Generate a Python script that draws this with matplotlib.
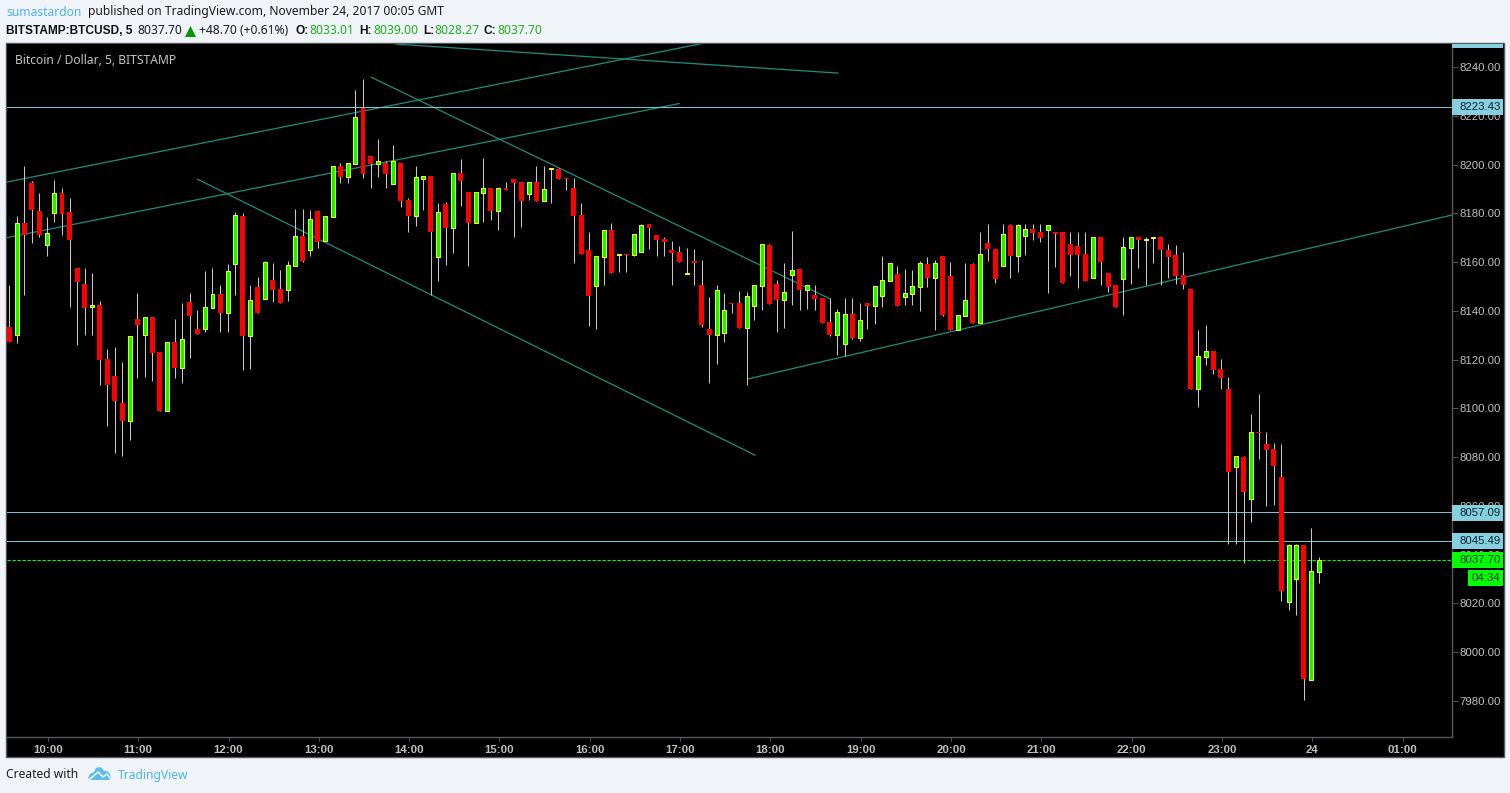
import numpy as np
import matplotlib
matplotlib.use('Agg')
import matplotlib.pyplot as plt
from matplotlib.patches import Rectangle, Polygon

# 5 minute bars, first one is 09:35
opens = [8133.4, 8130.2, 8175.9, 8192.4, 8180.9, 8167.1, 8180.3, 8188.3, 8180.5, 8157.6,
         8151.0, 8141.6, 8142.4, 8120.3, 8113.3, 8102.2, 8095.0, 8136.7, 8130.2, 8137.5,
         8123.1, 8099.1, 8127.2, 8116.7, 8143.6, 8132.6, 8132.7, 8141.3, 8146.9, 8139.3,
         8159.4, 8178.9, 8129.8, 8149.8, 8145.0, 8152.6, 8149.0, 8148.7, 8158.5, 8170.6,
         8165.1, 8181.0, 8168.6, 8178.6, 8199.4, 8195.0, 8200.4, 8223.2, 8203.5, 8200.4,
         8200.6, 8192.2, 8200.6, 8185.5, 8179.0, 8194.2, 8195.3, 8162.2, 8183.8, 8174.1,
         8196.5, 8188.7, 8176.2, 8188.5, 8190.4, 8181.1, 8190.4, 8194.1, 8192.8, 8188.1,
         8192.8, 8185.2, 8198.2, 8198.2, 8194.5, 8190.4, 8179.3, 8165.0, 8150.2, 8162.1,
         8173.2, 8162.9, 8163.3, 8162.9, 8164.1, 8175.6, 8171.1, 8169.5, 8165.0, 8164.1,
         8155.1, 8160.4, 8150.6, 8132.6, 8130.2, 8131.1, 8143.2, 8143.2, 8133.1, 8142.1,
         8150.3, 8167.0, 8151.0, 8144.6, 8154.8, 8157.2, 8148.7, 8146.5, 8145.3, 8135.4,
         8130.2, 8126.5, 8138.7, 8129.0, 8143.2, 8142.1, 8146.2, 8152.4, 8155.1, 8145.8,
         8147.1, 8149.9, 8159.2, 8153.6, 8162.5, 8154.3, 8132.3, 8138.0, 8159.2, 8135.2,
         8167.8, 8165.4, 8158.3, 8175.2, 8162.6, 8170.8, 8173.6, 8172.3, 8173.3, 8172.3,
         8172.3, 8167.4, 8166.6, 8163.3, 8153.6, 8170.3, 8155.5, 8150.6, 8153.2, 8165.9,
         8170.3, 8169.1, 8169.9, 8170.3, 8165.0, 8162.9, 8154.7, 8149.0, 8108.1, 8121.2,
         8123.5, 8116.2, 8108.0, 8076.1, 8080.1, 8063.0, 8090.3, 8085.4, 8083.3, 8071.9,
         8020.7, 8030.2, 8044.0, 7988.8, 8033.01]
highs = [8150.6, 8178.9, 8199.4, 8193.2, 8188.3, 8178.5, 8193.7, 8190.4, 8186.3, 8157.6,
         8157.6, 8155.5, 8144.0, 8124.4, 8125.2, 8119.0, 8129.5, 8147.3, 8137.3, 8137.5,
         8123.1, 8127.1, 8136.7, 8143.2, 8147.3, 8140.3, 8156.3, 8157.6, 8150.6, 8159.2,
         8180.5, 8180.1, 8150.6, 8153.9, 8160.4, 8159.6, 8156.7, 8160.4, 8181.8, 8181.8,
         8181.4, 8181.0, 8178.8, 8199.3, 8200.6, 8200.5, 8230.6, 8235.1, 8203.5, 8210.5,
         8201.5, 8208.0, 8200.6, 8186.3, 8199.4, 8195.2, 8195.3, 8184.2, 8184.6, 8196.4,
         8202.3, 8188.7, 8188.6, 8202.7, 8190.4, 8190.2, 8192.8, 8194.1, 8192.8, 8192.7,
         8199.4, 8199.4, 8198.6, 8198.6, 8194.5, 8194.5, 8184.2, 8172.3, 8162.5, 8173.0,
         8176.0, 8163.3, 8163.3, 8171.5, 8175.6, 8175.6, 8171.1, 8170.3, 8168.6, 8166.6,
         8165.8, 8165.4, 8160.9, 8145.7, 8150.6, 8147.3, 8143.2, 8148.1, 8147.7, 8150.5,
         8167.3, 8167.4, 8152.7, 8159.6, 8172.8, 8157.2, 8150.5, 8150.6, 8145.3, 8145.3,
         8140.8, 8145.3, 8145.3, 8143.2, 8143.2, 8150.1, 8162.5, 8159.5, 8158.4, 8157.2,
         8156.8, 8160.4, 8162.1, 8160.9, 8162.5, 8160.0, 8138.2, 8159.6, 8159.6, 8172.3,
         8175.6, 8165.4, 8175.6, 8175.6, 8175.6, 8175.6, 8175.6, 8175.6, 8175.2, 8172.3,
         8172.3, 8172.3, 8172.3, 8172.3, 8170.2, 8170.3, 8155.5, 8150.6, 8170.3, 8170.2,
         8170.3, 8170.3, 8170.3, 8170.3, 8167.4, 8167.0, 8164.1, 8149.0, 8132.1, 8134.2,
         8123.5, 8120.3, 8112.9, 8080.3, 8080.5, 8097.7, 8105.9, 8090.3, 8085.8, 8085.4,
         8044.4, 8044.4, 8044.0, 8050.9, 8039.00]
lows = [8127.2, 8126.9, 8146.5, 8168.0, 8170.4, 8162.5, 8176.4, 8171.1, 8141.7, 8126.0,
        8130.1, 8130.1, 8109.6, 8092.8, 8081.7, 8080.5, 8087.0, 8112.5, 8112.9, 8111.2,
        8098.9, 8099.1, 8112.5, 8110.4, 8120.7, 8130.5, 8131.3, 8141.3, 8131.3, 8131.3,
        8146.5, 8115.7, 8116.2, 8139.1, 8145.0, 8143.6, 8143.2, 8144.0, 8158.5, 8160.0,
        8162.5, 8165.8, 8168.6, 8178.6, 8192.4, 8192.4, 8200.4, 8194.5, 8190.4, 8194.9,
        8190.4, 8192.2, 8182.6, 8172.3, 8174.8, 8181.4, 8146.5, 8152.2, 8158.8, 8163.7,
        8183.0, 8158.4, 8176.2, 8176.4, 8177.3, 8173.2, 8189.6, 8170.3, 8174.4, 8185.5,
        8185.0, 8185.2, 8184.2, 8194.1, 8189.6, 8159.6, 8163.3, 8133.8, 8132.6, 8150.6,
        8155.5, 8155.9, 8155.9, 8162.5, 8164.1, 8165.4, 8162.5, 8162.5, 8150.6, 8160.0,
        8155.1, 8150.6, 8133.4, 8110.4, 8118.2, 8127.2, 8139.1, 8133.0, 8109.6, 8136.3,
        8140.4, 8142.8, 8131.3, 8133.0, 8142.4, 8140.4, 8140.8, 8140.4, 8135.0, 8129.7,
        8121.9, 8121.5, 8128.5, 8127.6, 8132.6, 8134.6, 8141.6, 8152.4, 8142.0, 8142.4,
        8142.4, 8139.9, 8149.8, 8132.2, 8137.9, 8132.2, 8132.3, 8138.0, 8135.0, 8135.2,
        8160.4, 8151.4, 8158.3, 8153.5, 8155.9, 8162.9, 8169.1, 8168.2, 8147.3, 8158.0,
        8151.4, 8154.3, 8149.4, 8152.2, 8153.6, 8150.6, 8147.7, 8141.6, 8138.3, 8151.0,
        8157.6, 8150.6, 8159.6, 8150.6, 8153.5, 8151.0, 8149.0, 8108.0, 8100.6, 8117.8,
        8114.1, 8108.0, 8044.4, 8044.4, 8036.6, 8053.4, 8079.2, 8060.0, 8060.4, 8021.0,
        8017.3, 8015.3, 7980.4, 7988.8, 8028.27]
closes = [8127.2, 8175.9, 8171.1, 8181.4, 8171.1, 8171.8, 8188.2, 8179.7, 8169.0, 8151.8,
          8141.2, 8142.4, 8119.8, 8109.6, 8103.0, 8094.8, 8129.5, 8134.2, 8137.3, 8122.7,
          8098.9, 8127.1, 8116.6, 8128.3, 8137.9, 8130.5, 8141.4, 8146.8, 8139.1, 8156.2,
          8179.2, 8129.7, 8144.3, 8139.1, 8159.9, 8148.5, 8143.2, 8158.7, 8170.6, 8160.4,
          8177.5, 8168.2, 8178.8, 8199.3, 8194.9, 8200.5, 8219.4, 8196.1, 8200.2, 8201.3,
          8196.1, 8201.3, 8185.0, 8178.9, 8194.8, 8195.2, 8172.3, 8180.4, 8174.0, 8196.4,
          8193.2, 8176.0, 8188.6, 8190.2, 8181.0, 8190.2, 8189.6, 8192.4, 8185.0, 8192.7,
          8185.0, 8189.8, 8198.6, 8194.1, 8194.1, 8178.9, 8163.3, 8146.1, 8162.5, 8173.0,
          8155.5, 8163.3, 8162.9, 8171.5, 8175.2, 8174.0, 8169.1, 8168.2, 8163.7, 8160.0,
          8155.5, 8159.6, 8134.2, 8130.1, 8148.4, 8140.2, 8142.8, 8133.0, 8146.0, 8150.5,
          8167.3, 8142.8, 8144.5, 8147.6, 8156.6, 8148.6, 8150.5, 8144.9, 8135.0, 8130.1,
          8139.4, 8138.6, 8128.9, 8136.1, 8142.0, 8150.1, 8152.5, 8159.5, 8142.0, 8147.2,
          8150.1, 8159.5, 8153.5, 8159.5, 8138.2, 8132.2, 8138.2, 8144.3, 8135.0, 8163.2,
          8165.4, 8153.1, 8171.4, 8162.5, 8175.1, 8173.4, 8171.9, 8169.9, 8175.1, 8171.5,
          8151.4, 8162.9, 8162.9, 8152.2, 8170.2, 8160.0, 8149.8, 8141.6, 8166.1, 8170.2,
          8169.1, 8169.5, 8170.3, 8165.0, 8162.1, 8154.3, 8150.6, 8108.0, 8121.3, 8123.4,
          8115.7, 8112.5, 8073.9, 8080.3, 8065.7, 8090.2, 8089.9, 8082.9, 8076.4, 8025.1,
          8043.8, 8043.8, 7989.0, 8033.2, 8037.70]

hour_bars = [5.13 + 12 * h for h in range(16)]
hour_labels = ['10:00', '11:00', '12:00', '13:00', '14:00', '15:00', '16:00', '17:00',
               '18:00', '19:00', '20:00', '21:00', '22:00', '23:00', '24', '01:00']
price_ticks = [7980, 8000, 8020, 8040, 8060, 8080, 8100, 8120, 8140, 8160, 8180, 8200, 8220, 8240]

# drawn lines as (bar, price) end points
trend_bars = [(-1, 92), (-1, 89), (25, 99.1), (48.1, 109), (51.4, 110.1), (98.2, 192)]
trend_prices = [(8192.4, 8249.6), (8169.6, 8225.0), (8194.0, 8080.8),
                (8235.8, 8145.0), (8249.4, 8237.5), (8112.1, 8179.5)]
level_prices = [8223.43, 8057.09, 8045.49]
level_labels = ['8223.43', '8057.09', '8045.49']
last_price = 8037.70

W, H = 1510, 793
BG = '#f0f3f7'
GREY = '#c0c0c0'
BORDER = '#55585f'
CYAN = '#86cfdf'
TEAL = '#1b8f7d'
UP = '#00ff00'
DOWN = '#ff0000'
SANS = 'Liberation Sans'
UI = 'Noto Sans'


def fx(x):
    return x / W


def fy(y):
    return 1 - y / H


def ptext(x, y, s, **kw):
    kw.setdefault('va', 'center')
    kw.setdefault('family', UI)
    kw.setdefault('fontsize', 8.7)
    return fig.text(fx(x), fy(y), s, **kw)


def prect(x0, y0, x1, y1, **kw):
    r = Rectangle((fx(x0), fy(y1)), (x1 - x0) / W, (y1 - y0) / H,
                  transform=fig.transFigure, **kw)
    fig.add_artist(r)
    return r


fig = plt.figure(figsize=(W / 100, H / 100), dpi=100, facecolor=BG)
prect(6, 43, 1504, 757, facecolor='black', edgecolor=BORDER, linewidth=1, zorder=-1)

ax = fig.add_axes([fx(7), fy(737), 1445 / W, 693 / H], facecolor='black')
ax.set_xlim(-0.306, 191.7)
ax.set_ylim(7965.24, 8249.43)

o = np.array(opens)
c = np.array(closes)
bars = np.arange(len(o))
up = c >= o

for b, p in zip(trend_bars, trend_prices):
    ax.plot(b, p, color=TEAL, linewidth=0.9, zorder=1)
for p in level_prices:
    ax.axhline(p + 0.3, color='#72c6d8', linewidth=0.72, zorder=1)
ax.axhline(last_price, color=UP, linewidth=0.8, dashes=(3, 1.5), zorder=1)

ax.vlines(bars, lows, highs, color='#c8c8c8', linewidth=0.75, zorder=2)
ax.bar(bars[~up], (o - c)[~up], bottom=c[~up], width=0.66, color=DOWN, linewidth=0, zorder=3)
ax.bar(bars[up], (c - o)[up], bottom=o[up], width=0.53, color=UP, edgecolor='#ffff00',
       linewidth=0.75, zorder=3)

ax.yaxis.tick_right()
ax.set_yticks(price_ticks)
ax.set_yticklabels(['%.2f' % p for p in price_ticks], family=SANS, fontsize=8.2, color=GREY)
ax.set_xticks(hour_bars)
ax.set_xticklabels(hour_labels, family=SANS, fontsize=8.2, color=GREY, fontweight='bold')
ax.tick_params(axis='y', length=4, width=0.7, color=BORDER, pad=1.2)
ax.tick_params(axis='x', length=3, width=0.7, color=BORDER, pad=3)
for side in ['left', 'top']:
    ax.spines[side].set_visible(False)
for side in ['right', 'bottom']:
    ax.spines[side].set_color(BORDER)
    ax.spines[side].set_linewidth(1)


def price_y(p):
    disp = ax.transData.transform((0, p))[1]
    return H - disp


# boxes on the price scale
prect(1452, 44, 1503, 48, facecolor=CYAN, linewidth=0, zorder=5)
for p, s in zip(level_prices, level_labels):
    yc = price_y(p)
    prect(1452, yc - 8, 1503, yc + 8, facecolor=CYAN, linewidth=0, zorder=5)
    ptext(1459, yc, s, family=SANS, fontsize=8.2, color='#10242c', zorder=6)
yc = price_y(last_price)
prect(1452, yc - 8, 1503, yc + 8, facecolor=UP, linewidth=0, zorder=5)
ptext(1459, yc, '%.2f' % last_price, family=SANS, fontsize=8.2, color='#06300a', zorder=6)
prect(1468, yc + 10, 1503, yc + 26, facecolor=UP, linewidth=0, zorder=5)
ptext(1472, yc + 18, '04:34', family=SANS, fontsize=8.2, color='#06300a', zorder=6)

ptext(15, 60, 'Bitcoin / Dollar, 5, BITSTAMP', color='#c4c4c4', zorder=6)

# header
ptext(6, 12, 'sumastardon', color='#4db4e6')
ptext(88, 12, 'published on TradingView.com, November 24, 2017 00:05 GMT', color='#1c1c1c')
ptext(6, 31, 'BITSTAMP:BTCUSD, 5', color='#111111', family=SANS, fontweight='bold', fontsize=8.6)
ptext(137, 31, '8037.70', color='#1c1c1c')
fig.add_artist(Polygon([[fx(185), fy(37)], [fx(196), fy(37)], [fx(190.5), fy(26)]],
                       transform=fig.transFigure, facecolor='#009900', linewidth=0))
ptext(199, 31, '+48.70 (+0.61%)', color='#1c1c1c')
head_x = [296, 359, 423, 484]
head_keys = ['O:', 'H:', 'L:', 'C:']
head_vals = ['8033.01', '8039.00', '8028.27', '8037.70']
val_x = [309, 373, 434, 497]
for hx, k, vx, v in zip(head_x, head_keys, val_x, head_vals):
    ptext(hx, 31, k, color='#111111', family=SANS, fontweight='bold', fontsize=8.6)
    ptext(vx, 31, v, color='#1fae1f')

# footer
ptext(6, 775, 'Created with', color='#1c1c1c')
ptext(118, 775, 'TradingView', color='#4db4e6')
cloud = [(88, 778), (90, 774), (94, 772), (96, 768), (99, 767), (102, 768), (104, 771),
         (107, 771), (110, 774), (111, 778), (109, 780), (90, 780)]
fig.add_artist(Polygon([[fx(x), fy(y)] for x, y in cloud], transform=fig.transFigure,
                       facecolor='#5cbde8', linewidth=0))
zig_x = [fx(x) for x in (90, 98, 103, 107, 110)]
zig_y = [fy(y) for y in (779, 772, 777, 774, 778)]
fig.add_artist(plt.Line2D(zig_x, zig_y, transform=fig.transFigure, color='white', linewidth=1.0))

fig.savefig('out.png', dpi=100, facecolor=BG)
